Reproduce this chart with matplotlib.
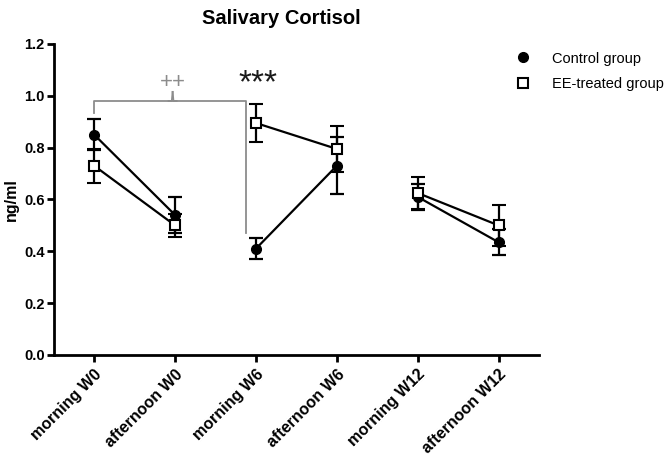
import numpy as np
import matplotlib.pyplot as plt
from matplotlib.lines import Line2D

plt.rcParams["font.family"] = ["Liberation Sans", "DejaVu Sans"]

# ====================== 数据 ======================
categories = ["morning W0", "afternoon W0", "morning W6",
              "afternoon W6", "morning W12", "afternoon W12"]
control_mean = [0.85, 0.54, 0.41, 0.73, 0.61, 0.435]
control_err = [0.06, 0.07, 0.04, 0.11, 0.05, 0.05]
ee_mean = [0.73, 0.50, 0.895, 0.795, 0.625, 0.50]
ee_err = [0.065, 0.045, 0.075, 0.09, 0.06, 0.08]
pairs = [(0, 1), (2, 3), (4, 5)]

x = np.arange(len(categories))

fig = plt.figure(figsize=(6.72, 4.58), dpi=100)
ax = fig.add_axes([0.080, 0.225, 0.722, 0.679])

lw = 1.6
for a, b in pairs:
    ax.plot([x[a], x[b]], [control_mean[a], control_mean[b]], color="black", lw=lw, zorder=2)
    ax.plot([x[a], x[b]], [ee_mean[a], ee_mean[b]], color="black", lw=lw, zorder=2)

ax.errorbar(x, control_mean, yerr=control_err, fmt="o", color="black", ms=7,
            elinewidth=lw, capsize=5, capthick=lw, zorder=3)
ax.errorbar(x, ee_mean, yerr=ee_err, fmt="s", color="black", mfc="white", mec="black",
            mew=1.5, ms=7, elinewidth=lw, capsize=5, capthick=lw, zorder=4)

# 显著性括号
gray = "#8c8c8c"
xr = 1.88
ax.plot([0, 0, xr, xr], [0.935, 0.98, 0.98, 0.47], color=gray, lw=1.3, zorder=1)
ax.plot([0.92, 0.96, 0.97], [0.98, 0.98, 1.015], color=gray, lw=1.3)
ax.plot([0.97, 0.98, 1.02], [1.015, 0.98, 0.98], color=gray, lw=1.3)
ax.text(0.97, 1.05, "++", color=gray, fontsize=16, ha="center", va="center")
ax.text(2.03, 1.045, "***", color="#1a1a1a", fontsize=24, ha="center", va="center")

ax.set_xlim(-0.5, 5.5)
ax.set_ylim(0, 1.2)
ax.set_yticks(np.arange(0, 1.21, 0.2))
ax.set_yticklabels([f"{v:.1f}" for v in np.arange(0, 1.21, 0.2)], fontweight="bold", fontsize=10.5)
ax.set_xticks(x)
ax.set_xticklabels(categories, rotation=45, ha="right", rotation_mode="anchor",
                   fontweight="bold", fontsize=11.5)
for s in ["top", "right"]:
    ax.spines[s].set_visible(False)
for s in ["left", "bottom"]:
    ax.spines[s].set_linewidth(2)
ax.tick_params(width=2, length=5, direction="out")
ax.tick_params(axis="y", pad=1.5)
ax.set_ylabel("ng/ml", fontweight="bold", fontsize=11.5, labelpad=4)
fig.text(281 / 672, 1 - 18 / 458, "Salivary Cortisol", fontweight="bold", fontsize=14.5,
         ha="center", va="center")

handles = [
    Line2D([], [], ls="none", marker="o", color="black", ms=7),
    Line2D([], [], ls="none", marker="s", mfc="white", mec="black", mew=1.5, ms=7),
]
ax.legend(handles, ["Control group", "EE-treated group"], loc="upper left",
          bbox_to_anchor=(0.737, 0.916), bbox_transform=fig.transFigure,
          frameon=False, fontsize=10.5, handletextpad=1.0, labelspacing=0.8)

plt.savefig("out.png", dpi=100)
